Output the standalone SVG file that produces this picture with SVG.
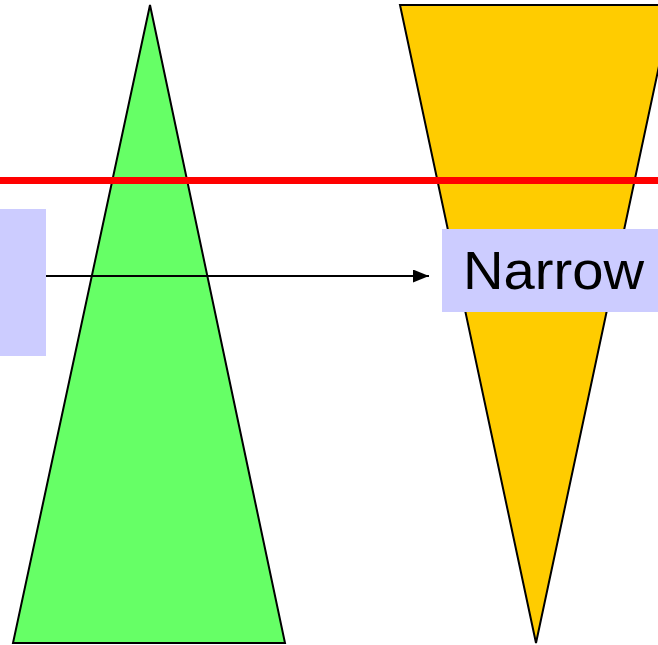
<svg xmlns="http://www.w3.org/2000/svg" width="658" height="645" viewBox="0 0 658 645">
<defs>
<style>
.tri{stroke:#000;stroke-width:2;stroke-linejoin:miter}
.box{fill:#ccccff;stroke:none}
.lbl{font-family:"Comic Sans MS","Liberation Sans",sans-serif;font-size:54px;fill:#000}
</style>
<marker id="ah" viewBox="0 0 16 13" refX="16" refY="6.5" markerWidth="16" markerHeight="13" markerUnits="userSpaceOnUse" orient="auto">
<path d="M0,0 L16,6.5 L0,13 z" fill="#000"/>
</marker>
</defs>
<rect width="658" height="645" fill="#fff"/>
<g id="green-triangle"><polygon class="tri" points="150,5 285,643 13,643" fill="#66ff66"/></g>
<g id="yellow-triangle"><polygon class="tri" points="400,5 672,5 536,643" fill="#ffcc00"/></g>
<g id="red-line"><line x1="0" y1="180.5" x2="658" y2="180.5" stroke="#ff0000" stroke-width="7"/></g>
<g id="left-box"><rect class="box" x="-10" y="209" width="56" height="147"/></g>
<g id="connectors"><line x1="46" y1="276" x2="429" y2="276" stroke="#000" stroke-width="2" marker-end="url(#ah)"/></g>
<g id="narrow"><rect class="box" x="442" y="229" width="220" height="83"/>
<text class="lbl" x="463" y="289" textLength="181" lengthAdjust="spacingAndGlyphs">Narrow</text></g>
</svg>
